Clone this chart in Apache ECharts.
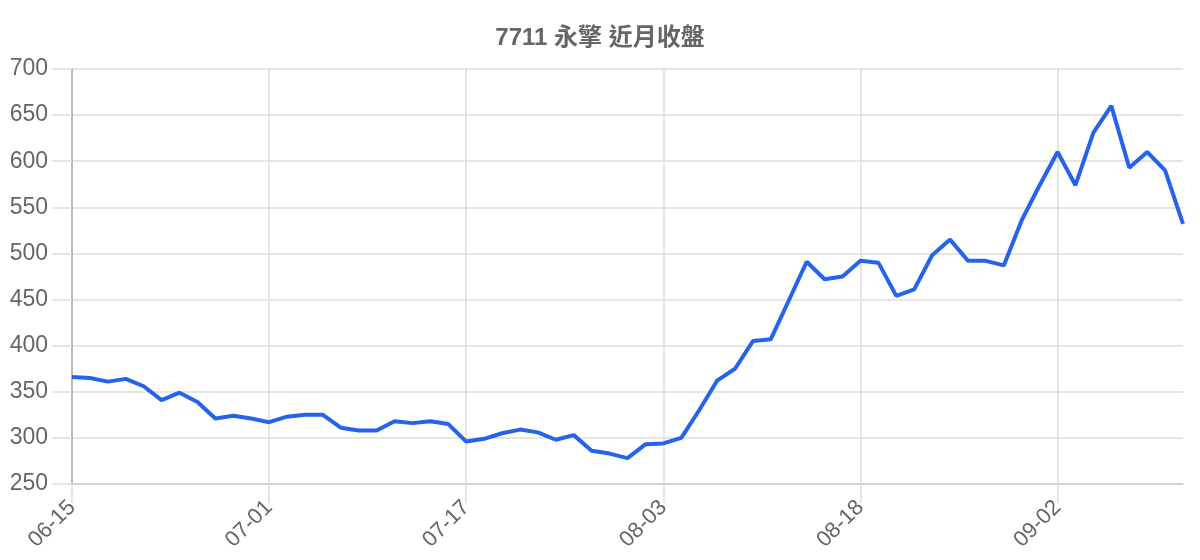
<!DOCTYPE html>
<html>
<head>
<meta charset="utf-8">
<title>7711 永擎 近月收盤</title>
<script src="https://cdn.jsdelivr.net/npm/echarts@6/dist/echarts.min.js"></script>
<style>
  html, body { margin: 0; padding: 0; background: #fff; }
  #main { width: 1200px; height: 560px; }
</style>
</head>
<body>
<div id="main"></div>
<script>
// trading days shown on the x axis
var dates = [
  '06-15', '06-16', '06-17', '06-18', '06-22', '06-23', '06-24', '06-25', '06-26', '06-29', '06-30',
  '07-01', '07-02', '07-03', '07-06', '07-07', '07-08', '07-09', '07-13', '07-14', '07-15', '07-16',
  '07-17', '07-20', '07-21', '07-22', '07-23', '07-24', '07-27', '07-28', '07-29', '07-30', '07-31',
  '08-03', '08-04', '08-05', '08-06', '08-07', '08-10', '08-11', '08-12', '08-13', '08-14', '08-17',
  '08-18', '08-19', '08-20', '08-21', '08-24', '08-25', '08-26', '08-27', '08-28', '08-31', '09-01',
  '09-02', '09-03', '09-04', '09-07', '09-08', '09-09', '09-10', '09-11'
];

// closing prices
var closes = [
  366, 365, 361, 364, 356, 341, 349, 339, 321, 324, 321,
  317, 323, 325, 325, 311, 308, 308, 318, 316, 318, 315,
  296, 299, 305, 309, 306, 298, 303, 286, 283, 278, 293,
  294, 300, 330, 362, 375, 405, 407, 449, 491, 472, 475,
  492, 490, 454, 461, 498, 515, 492, 492, 487, 536, 574,
  610, 574, 631, 660, 593, 610, 590, 532
];

var yTicks = { min: 250, max: 700, step: 50 };

var chart = echarts.init(document.getElementById('main'), null, { renderer: 'canvas' });

var labelFont = "'Liberation Sans', Arial, sans-serif";

var option = {
  backgroundColor: '#fff',
  animation: false,
  title: {
    text: '7711 永擎 近月收盤',
    left: 'center',
    top: 21,
    textStyle: {
      fontFamily: "'Liberation Sans', 'Noto Sans CJK TC', sans-serif",
      fontSize: 24,
      fontWeight: 'bold',
      color: '#666'
    }
  },
  grid: { left: 72, right: 17, top: 69, bottom: 76 },
  xAxis: {
    type: 'category',
    data: dates,
    boundaryGap: false,
    axisLine: { lineStyle: { color: '#ccc', width: 1.5 } },
    axisTick: { show: true, interval: 10, length: 19, lineStyle: { color: '#ddd', width: 1.5 } },
    axisLabel: {
      interval: 10,
      rotate: 45,
      margin: 20,
      fontSize: 22,
      fontFamily: labelFont,
      color: '#666'
    },
    splitLine: { show: true, interval: 10, lineStyle: { color: '#ddd', width: 1.5 } }
  },
  yAxis: {
    type: 'value',
    min: yTicks.min,
    max: yTicks.max,
    interval: yTicks.step,
    axisLine: { show: true, lineStyle: { color: '#aaa', width: 1.5 } },
    axisTick: { show: true, length: 20, lineStyle: { color: '#ddd', width: 1.5 } },
    axisLabel: {
      margin: 24,
      fontSize: 23,
      fontFamily: labelFont,
      color: '#666'
    },
    splitLine: { lineStyle: { color: '#ddd', width: 1.5 } }
  },
  series: [{
    type: 'line',
    data: closes,
    showSymbol: false,
    lineStyle: { color: '#2563eb', width: 4 },
    itemStyle: { color: '#2563eb' }
  }]
};

chart.setOption(option);
</script>
</body>
</html>
